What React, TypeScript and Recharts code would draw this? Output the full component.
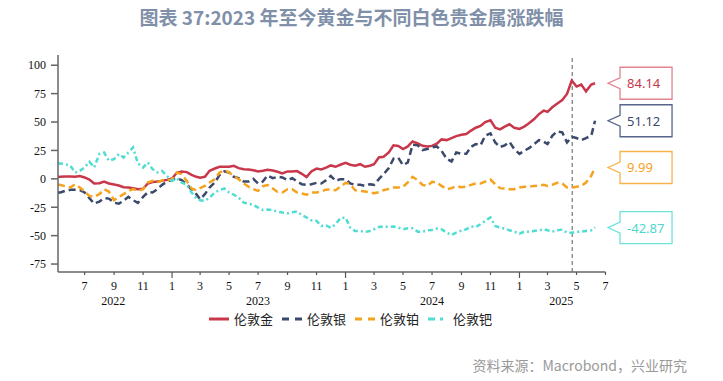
import React from 'react';
import { LineChart, Line, XAxis, YAxis, ReferenceLine, Legend } from 'recharts';

// sampling dates (1st / 11th / 21st of each month)
const dates = [
  '2022-05-06', '2022-05-11', '2022-05-21',
  '2022-06-01', '2022-06-11', '2022-06-21', '2022-07-01', '2022-07-11', '2022-07-21',
  '2022-08-01', '2022-08-11', '2022-08-21', '2022-09-01', '2022-09-11', '2022-09-21',
  '2022-10-01', '2022-10-11', '2022-10-21', '2022-11-01', '2022-11-11', '2022-11-21',
  '2022-12-01', '2022-12-11', '2022-12-21',
  '2023-01-01', '2023-01-11', '2023-01-21', '2023-02-01', '2023-02-11', '2023-02-21',
  '2023-03-01', '2023-03-11', '2023-03-21', '2023-04-01', '2023-04-11', '2023-04-21',
  '2023-05-01', '2023-05-11', '2023-05-21', '2023-06-01', '2023-06-11', '2023-06-21',
  '2023-07-01', '2023-07-11', '2023-07-21', '2023-08-01', '2023-08-11', '2023-08-21',
  '2023-09-01', '2023-09-11', '2023-09-21', '2023-10-01', '2023-10-11', '2023-10-21',
  '2023-11-01', '2023-11-11', '2023-11-21', '2023-12-01', '2023-12-11', '2023-12-21',
  '2024-01-01', '2024-01-11', '2024-01-21', '2024-02-01', '2024-02-11', '2024-02-21',
  '2024-03-01', '2024-03-11', '2024-03-21', '2024-04-01', '2024-04-11', '2024-04-21',
  '2024-05-01', '2024-05-11', '2024-05-21', '2024-06-01', '2024-06-11', '2024-06-21',
  '2024-07-01', '2024-07-11', '2024-07-21', '2024-08-01', '2024-08-11', '2024-08-21',
  '2024-09-01', '2024-09-11', '2024-09-21', '2024-10-01', '2024-10-11', '2024-10-21',
  '2024-11-01', '2024-11-11', '2024-11-21', '2024-12-01', '2024-12-11', '2024-12-21',
  '2025-01-01', '2025-01-11', '2025-01-21', '2025-02-01', '2025-02-11', '2025-02-21',
  '2025-03-01', '2025-03-11', '2025-03-21', '2025-04-01', '2025-04-11', '2025-04-21',
  '2025-05-01', '2025-05-11', '2025-05-21', '2025-06-01', '2025-06-09',
];

// % change since start of 2023
const gold = [
  1.5, 1.8, 2.1, 2.1, 1.8, 2.4, 1.2, -0.6, -4.1, -3.8, -2.4, -4.1,
  -5, -5.9, -7.4, -7.6, -8.2, -9.1, -8.8, -4.1, -2.9, -2.4, -1.8, -0.9,
  0.3, 5.3, 6.5, 5.9, 3.5, 1.8, 0.9, 1.8, 7.1, 9.1, 10.6, 10.6,
  10.6, 11.5, 9.4, 8.5, 8.2, 7.6, 6.5, 7.1, 8.0, 7.4, 6.2, 4.7,
  6.5, 6.5, 6.8, 4.4, 1.5, 6.5, 9.0, 8.2, 9.8, 11.8, 10.6, 12.4,
  14.1, 12.4, 11.5, 12.9, 10.6, 11.5, 12.9, 18.8, 19.4, 23.2, 29.5, 29,
  26.2, 28.5, 32.9, 31.2, 29.1, 28.5, 29, 31, 34.7, 34.1, 35.9, 37.6,
  38.8, 39.5, 42.5, 45, 46.5, 50, 51.5, 45, 43.5, 46, 48, 45,
  44, 46, 49, 52.6, 57, 60, 59, 63, 66, 69.4, 74.7, 86.5,
  81.2, 83, 77, 83, 84.14,
];

const silver = [
  -12, -12, -10.6, -9.7, -9.7, -10, -12, -17, -21.8, -20, -17, -17.4,
  -21, -21.8, -19.4, -15.9, -18.8, -21.2, -15.9, -11.8, -12, -9.1, -5.3, -2.6,
  -0.6, 0.6, -1.2, -4.7, -9.6, -13.5, -18, -13.5, -7.6, -3.2, 3.5, 6.5,
  5.6, 1.8, 0.6, -2.4, -2.4, 0, -4.1, -2.4, 3, 0.6, 1.8, 1.2,
  -1.2, 0.6, -2.4, -4.7, -5.3, -4.7, -3.5, -4.1, -1.2, 2.6, -1.8, -0.3,
  -0.3, -4.1, -5.3, -5.3, -6.2, -4.7, -5.3, -0.3, 4.1, 9.4, 17.8, 18.5,
  12, 14.4, 30, 29.5, 25.3, 26.2, 27.6, 28.5, 24.7, 17.5, 15.3, 23.2,
  22, 22, 28.2, 30.6, 29.5, 38, 40, 32, 28, 29.5, 32.5, 26.2,
  22, 24.7, 27, 30.6, 34.1, 32.6, 30.6, 37.9, 41.8, 40.9, 32, 37,
  35.9, 34.1, 35.9, 37.9, 51.12,
];

const platinum = [
  -5, -5.5, -6.5, -7.6, -4.7, -7.6, -11.2, -15, -15.9, -13.5, -9.1, -11.2,
  -18.8, -15.9, -13.5, -10.6, -9.1, -10.6, -9.1, -3.2, -1.8, -3.2, -1.2, -1.8,
  -0.3, 5.6, 4.1, -1.8, -8.5, -10, -8.2, -6.2, -3.2, -0.3, 5.6, 7.5,
  5.6, 2.6, -0.3, -4.1, -7, -9.1, -10.6, -6.5, -5.5, -8.5, -11.5, -12,
  -9.1, -9.1, -12, -12.9, -14, -12, -12, -11.2, -9.5, -9.4, -10, -7,
  -3.5, -4.7, -10, -10.6, -11.2, -12, -12.6, -11.8, -10, -8.8, -7.6, -7.6,
  -7, -3.2, 1.8, -1.2, -5.3, -6.2, -2.6, -3.2, -6.2, -9.1, -8.2, -6.5,
  -7.3, -7, -5.3, -4.1, -4.1, -2.4, -0.6, -4.7, -8.2, -8.5, -9.1, -9.1,
  -7.6, -7, -7, -6.2, -5.9, -5.3, -6.2, -5.3, -3.5, -4.1, -7.6, -7.6,
  -7, -6.2, -3.2, 2.6, 9.99,
];

const palladium = [
  13.5, 13.5, 13, 11.5, 5.5, 7, 10, 15, 10, 21.8, 23.2, 15.9,
  17.4, 21.8, 18.8, 23.2, 27.6, 13.5, 10, 14.4, 8.5, 5.6, 7, 2.6,
  -1.8, 0.6, -3.2, -5.3, -12, -17, -18.8, -19.4, -16.5, -12, -10, -8.5,
  -12, -14, -16.5, -21, -21.8, -23, -25.3, -27.5, -27, -27.6, -28.8, -29.7,
  -30.3, -29.4, -28.8, -31.8, -34, -36.5, -37, -41.5, -41, -43, -40, -34.7,
  -34, -43, -45.9, -45.9, -46.8, -45.9, -44.4, -42.4, -41.8, -42.4, -42, -43,
  -44.4, -43.5, -43.5, -46.5, -46.5, -45.3, -45, -43.8, -44.4, -47.4, -49.4, -47.4,
  -45.6, -44.4, -42, -42.4, -40, -37, -34, -41.5, -42.9, -43.8, -45.3, -46.5,
  -48.2, -46.5, -46.5, -45.9, -45.3, -44.4, -45.3, -46.5, -45.3, -44.7, -47.4, -47.4,
  -46.5, -46.5, -45.9, -45.3, -42.87,
];

const monthTicks = [
  '2022-07-01', '2022-09-01', '2022-11-01',
  '2023-01-01', '2023-03-01', '2023-05-01', '2023-07-01', '2023-09-01', '2023-11-01',
  '2024-01-01', '2024-03-01', '2024-05-01', '2024-07-01', '2024-09-01', '2024-11-01',
  '2025-01-01', '2025-03-01', '2025-05-01', '2025-07-01',
];
const yearTickDates = ['2022-08-30', '2023-07-01', '2024-07-01', '2025-03-30'];
const yearLabels = ['2022', '2023', '2024', '2025'];
const yTicks = [-75, -50, -25, 0, 25, 50, 75, 100];
const xStart = '2022-05-06';
const xEnd = '2025-07-01';
const markerDate = '2025-04-22';

const ts = (d: string) => new Date(d + 'T00:00:00Z').getTime();

const data = dates.map((d, i) => ({
  t: ts(d),
  gold: gold[i],
  silver: silver[i],
  platinum: platinum[i],
  palladium: palladium[i],
}));

const series = [
  { key: 'gold', name: '伦敦金', color: '#c9374b', box: '#e3828f', text: '#c9374b', dash: undefined, icon: undefined },
  { key: 'silver', name: '伦敦银', color: '#3b4a6b', box: '#56658a', text: '#3b4a6b', dash: '7 4', icon: '7 6' },
  { key: 'platinum', name: '伦敦铂', color: '#f5a21f', box: '#f6b54c', text: '#f5a21f', dash: '7 4', icon: '7 6' },
  { key: 'palladium', name: '伦敦钯', color: '#4fdcd3', box: '#6fe3dd', text: '#4fd6cf', dash: '5 3 2 3', icon: '7 5 3 5' },
];

const serif = '"Liberation Serif", "Times New Roman", serif';
const cjk = '"Noto Sans CJK SC", "Noto Sans", sans-serif';

const MonthTick = (props: any) => {
  const { x, y, payload } = props;
  const m = new Date(payload.value).getUTCMonth() + 1;
  return (
    <g>
      <line x1={x} x2={x} y1={y} y2={y + (m === 1 ? 6 : 3)} stroke="#555" strokeWidth={1.2} />
      <text x={x} y={y + 18} textAnchor="middle" fontFamily={serif} fontSize={12} fill="#111">
        {m}
      </text>
    </g>
  );
};

const YearTick = (props: any) => {
  const { x, y, index } = props;
  return (
    <text x={x} y={y + 17} textAnchor="middle" fontFamily={serif} fontSize={12} fill="#111">
      {yearLabels[index]}
    </text>
  );
};

const makeCallout = (s: any) => (props: any) => {
  const { x, y, index, value } = props;
  if (index !== dates.length - 1) return null;
  const tip = x + 13;
  const left = x + 25;
  const w = 52;
  const h = 32;
  const n = 5.5;
  const d = `M${left},${y - h / 2} H${left + w} V${y + h / 2} H${left} V${y + n} L${tip},${y} L${left},${y - n} Z`;
  return (
    <g key={s.key + '-callout'}>
      <path d={d} fill="#fff" stroke={s.box} strokeWidth={1.3} />
      <text x={left + 7} y={y + 5} fill={s.text} fontSize={13} fontFamily='"Noto Sans", sans-serif'>
        {value}
      </text>
    </g>
  );
};

const LegendContent = () => (
  <div style={{ position: 'relative', width: 723, height: 24 }}>
    {series.map((s, i) => (
      <div
        key={s.key}
        style={{ position: 'absolute', left: 209 + i * 73, top: 6, display: 'flex', alignItems: 'center' }}
      >
        <svg width={20} height={12}>
          <line x1={0} x2={20} y1={6} y2={6} stroke={s.color} strokeWidth={3} strokeDasharray={s.icon} />
        </svg>
        <span style={{ marginLeft: 5, fontSize: 13, fontFamily: cjk, color: '#222', lineHeight: '13px' }}>
          {s.name}
        </span>
      </div>
    ))}
  </div>
);

const App: React.FC = () => {
  return (
    <div style={{ position: 'absolute', left: 0, top: 0, width: 723, height: 381, background: '#fff' }}>
      <div
        style={{
          position: 'absolute', top: 5, left: 0, width: 703, textAlign: 'center',
          fontFamily: cjk, fontWeight: 700, fontSize: 19, lineHeight: '24px', color: '#8090a9',
        }}
      >
        图表 37:2023 年至今黄金与不同白色贵金属涨跌幅
      </div>
      <div style={{ position: 'absolute', left: 0, top: 0 }}>
        <LineChart width={723} height={330} data={data} margin={{ top: 55, right: 117.5, left: 8, bottom: 0 }}>
          <XAxis
            dataKey="t"
            type="number"
            domain={[ts(xStart), ts(xEnd)]}
            ticks={monthTicks.map(ts)}
            interval={0}
            height={16}
            tickSize={0}
            tickMargin={0}
            tickLine={false}
            axisLine={{ stroke: '#666', strokeWidth: 1.5 }}
            tick={<MonthTick />}
            allowDataOverflow
          />
          <XAxis
            xAxisId="yr"
            dataKey="t"
            type="number"
            domain={[ts(xStart), ts(xEnd)]}
            ticks={yearTickDates.map(ts)}
            interval={0}
            height={18}
            tickSize={0}
            tickMargin={0}
            tickLine={false}
            axisLine={false}
            tick={<YearTick />}
            allowDataOverflow
          />
          <YAxis
            domain={[-82, 109]}
            ticks={yTicks}
            width={50}
            tickSize={7}
            tickMargin={5}
            interval={0}
            axisLine={{ stroke: '#666', strokeWidth: 1.5 }}
            tickLine={{ stroke: '#666', strokeWidth: 1.5 }}
            tick={{ fontFamily: serif, fontSize: 12, fill: '#111' }}
            allowDataOverflow
          />
          <ReferenceLine x={ts(markerDate)} stroke="#777" strokeDasharray="4 3" strokeWidth={1.2} />
          {series.map((s) => (
            <Line
              key={s.key}
              type="linear"
              dataKey={s.key}
              name={s.name}
              stroke={s.color}
              strokeWidth={2.5}
              strokeDasharray={s.dash}
              dot={false}
              isAnimationActive={false}
              label={makeCallout(s)}
            />
          ))}
          <Legend verticalAlign="bottom" content={<LegendContent />} wrapperStyle={{ left: 0, width: 723 }} />
        </LineChart>
      </div>
      <div
        style={{
          position: 'absolute', top: 355, right: 36, fontFamily: cjk, fontSize: 14,
          lineHeight: '20px', color: '#999',
        }}
      >
        资料来源：Macrobond，兴业研究
      </div>
    </div>
  );
};

export default App;
